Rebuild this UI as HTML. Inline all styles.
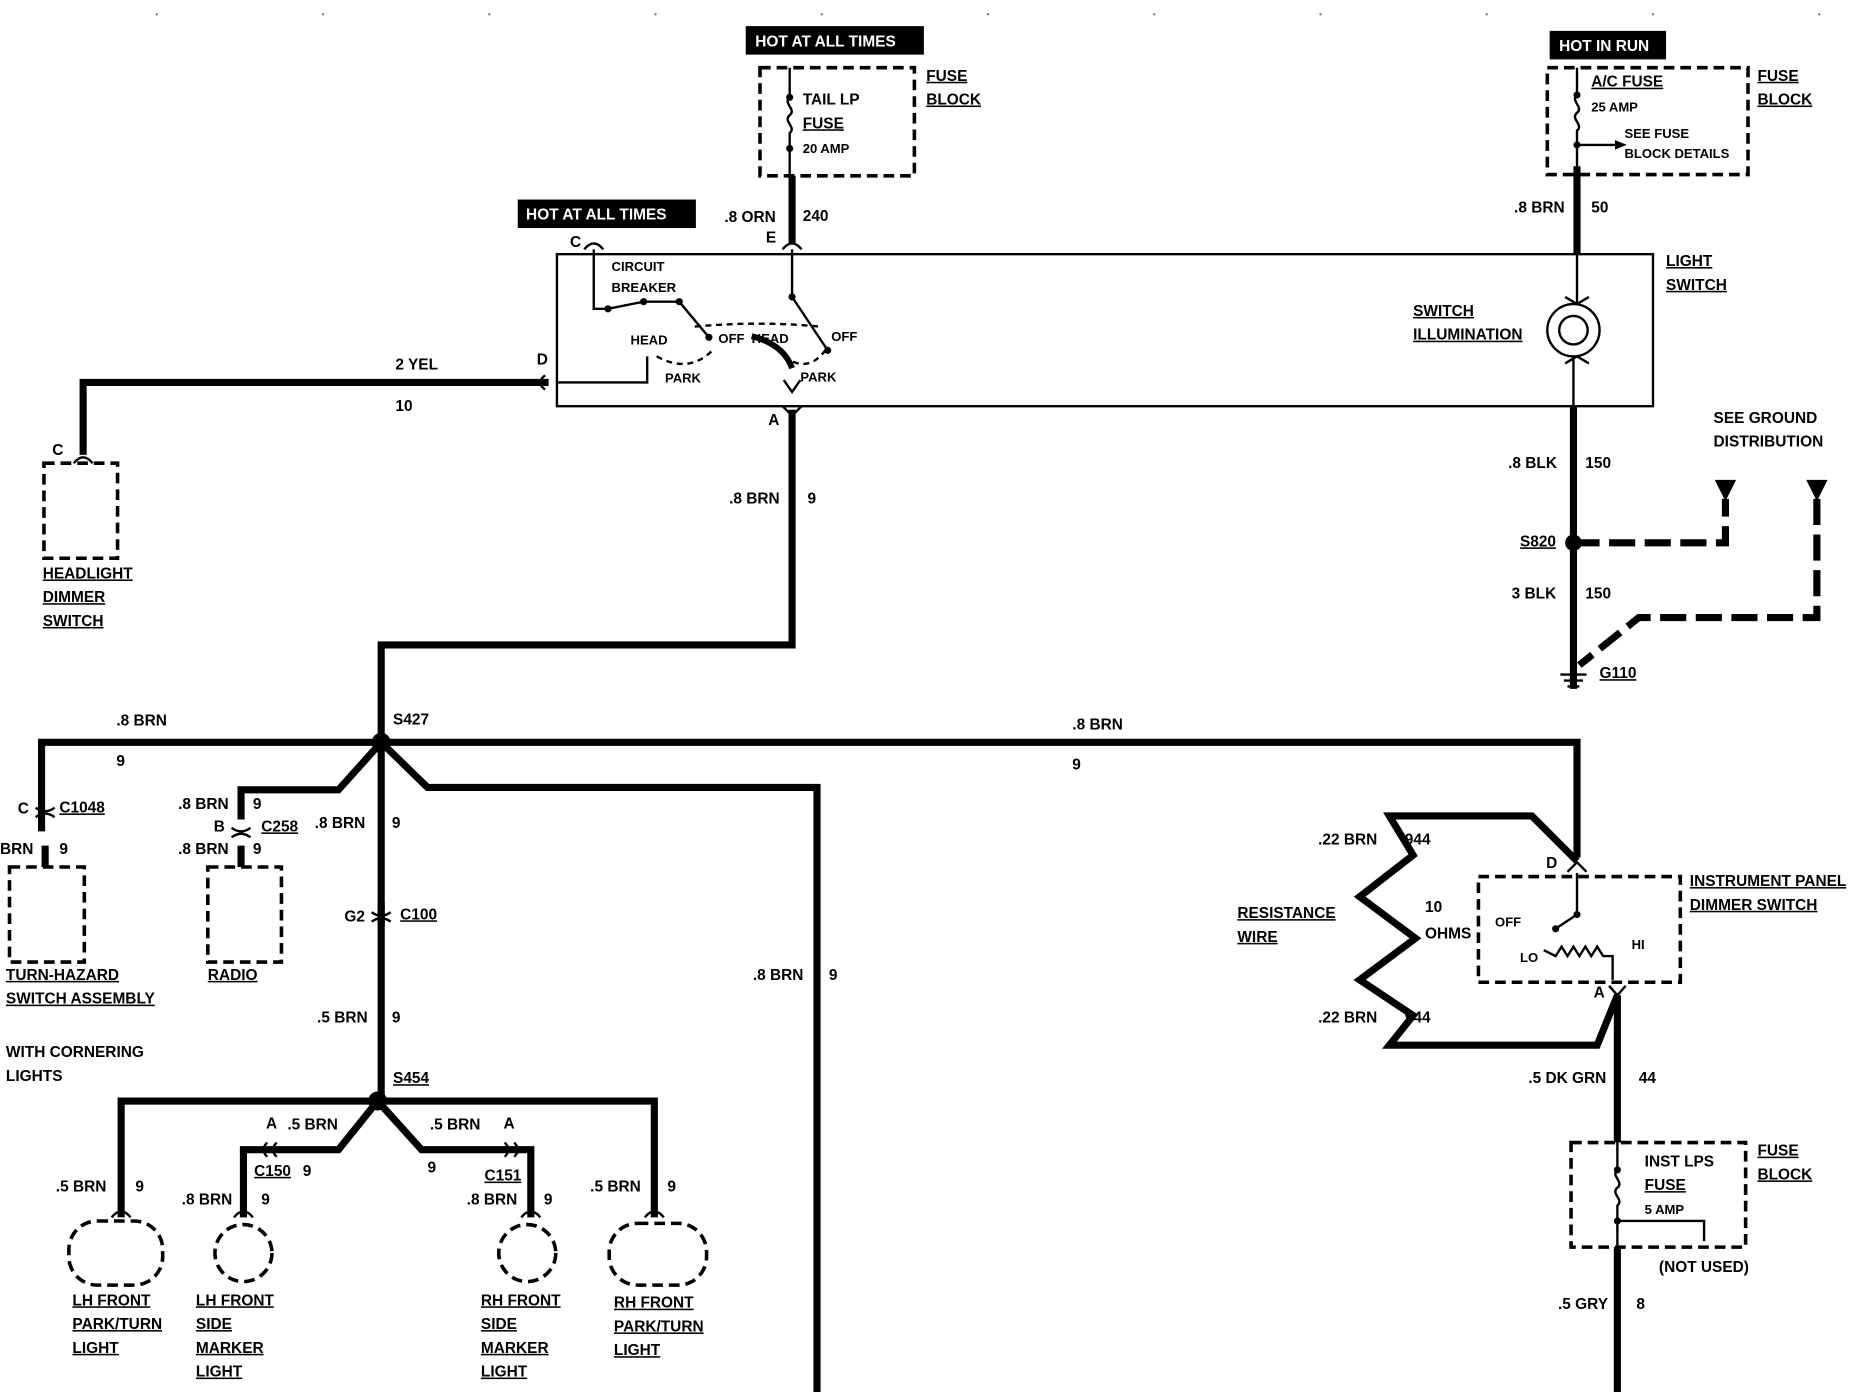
<!DOCTYPE html>
<html><head><meta charset="utf-8"><style>
html,body{margin:0;padding:0;background:#fff;}
svg{display:block;}
text{font-family:"Liberation Sans",sans-serif;font-weight:bold;font-size:13px;fill:#000;}
.s{font-size:11px;}
.w{fill:#fff;}
.u{text-decoration:underline;}
</style></head><body>
<svg width="1862" height="1392" viewBox="0 0 1568 1172" preserveAspectRatio="none" xmlns="http://www.w3.org/2000/svg">
<g fill="#777"><circle cx="132" cy="12" r="1"/><circle cx="272" cy="12" r="1"/><circle cx="412" cy="12" r="1"/><circle cx="552" cy="12" r="1"/><circle cx="692" cy="12" r="1"/><circle cx="832" cy="12" r="1"/><circle cx="972" cy="12" r="1"/><circle cx="1112" cy="12" r="1"/><circle cx="1252" cy="12" r="1"/><circle cx="1392" cy="12" r="1"/><circle cx="1532" cy="12" r="1"/></g>
<g fill="none" stroke="#000" stroke-linejoin="miter">
<g stroke-width="6">
<path d="M667 148V205"/>
<path d="M462 322H70V383"/>
<path d="M667 345V543H321V927"/>
<path d="M321 625H35V700"/>
<path d="M321 625H1328V722"/>
<path d="M321 625L285 665H203V690"/>
<path d="M321 625L360 663H688V1172"/>
<path d="M38 712V730M203 712V730M321 760V780"/>
<path d="M318 927H102V1025"/>
<path d="M318 927L285 968H205V1025"/>
<path d="M318 927L355 968H447V1025"/>
<path d="M318 927H551V1025"/>
<path d="M1328 140V214"/>
<path d="M1325 342V580"/>
<path d="M1328 725L1290 687H1170L1190 720L1145 755L1192 790L1145 825L1190 855L1170 880H1345L1362 838"/>
<path d="M1362 838V962M1362 1050V1172"/>
</g>
<g stroke-width="6" stroke-dasharray="22,8">
<path d="M1325 457H1453V420"/>
<path d="M1530 420V520H1380L1330 560"/>
</g>
<rect x="469" y="214" width="923" height="128" stroke-width="2"/>
<g stroke-width="3" stroke-dasharray="9,5">
<rect x="640" y="57" width="130" height="91"/>
<rect x="1303" y="57" width="169" height="90"/>
<rect x="37" y="390" width="62" height="80"/>
<rect x="8" y="730" width="63" height="80"/>
<rect x="175" y="730" width="62" height="80"/>
<rect x="1245" y="738" width="170" height="89"/>
<rect x="1323" y="962" width="147" height="88"/>
<rect x="58" y="1028" width="79" height="54" rx="24"/>
<circle cx="205" cy="1055" r="24"/>
<circle cx="444" cy="1055" r="24"/>
<rect x="513" y="1030" width="82" height="52" rx="24"/>
</g>
<g stroke-width="2">
<path d="M665 57V82M665 82c-6 5 6 10 0 15s6 10 0 15v13M665 125V148"/>
<path d="M1328 57V80c-6 5 6 10 0 15s6 10 0 15v30"/>
<path d="M1328 122H1360"/>
<path d="M1362 962V985c-6 5 6 10 0 15s6 10 0 15v35"/>
<path d="M1362 1028H1435V1045"/>
<path d="M659 210q8-10 16 0M659 342l8 8 8-8M459 316q-8 6 0 12M492 210q8-10 16 0M62 390q8-10 16 0"/>
<path d="M30 680q8 6 16 0M30 688q8-6 16 0M195 697q8 6 16 0M195 705q8-6 16 0M313 768q8 6 16 0M313 776q8-6 16 0"/>
<path d="M225 962q-6 6 0 12M233 962q-6 6 0 12M425 962q6 6 0 12M433 962q6 6 0 12"/>
<path d="M94 1025q8-10 16 0M197 1025q8-10 16 0M439 1025q8-10 16 0M543 1025q8-10 16 0"/>
<path d="M1320 734l8-8 8 8M1355 830l7 8 7-8"/>
<path d="M500 210V260l12 0 30-6 30 0 25 30M667 210V250l30 45"/>
<path d="M470 322H545V300M1328 214V256M1325 300V342"/>
<path d="M1318 250l10 6 10-6M1318 306l10-6 10 6"/>
<path d="M585 275Q640 270 690 275" stroke-dasharray="5,4"/>
<path d="M553 300Q580 315 600 295M660 300Q680 315 695 295" stroke-dasharray="5,4"/>
<circle cx="1325" cy="278" r="22"/>
<circle cx="1325" cy="278" r="12"/>
<path d="M1328 735V770l-18 12M1300 800l10 5 5-8 5 8 5-8 5 8 5-8 5 8 5-8 5 8h8V825"/>
</g>
<path d="M633 283Q660 290 667 310" stroke="#000" stroke-width="5" fill="none"/>
<path d="M660 320l7 10 7-10" stroke="#000" stroke-width="2" fill="none"/>
<path d="M1360 118l10 4-10 4z" fill="#000" stroke="none"/>
<path d="M1444 404h18l-9 18z M1521 404h18l-9 18z" fill="#000" stroke="none"/>
<g stroke-width="2"><path d="M1314 568h22M1317 573h16M1320 578h10"/></g>
</g>
<g fill="#000">
<circle cx="321" cy="625" r="8"/><circle cx="318" cy="927" r="8"/><circle cx="1325" cy="457" r="7"/>
<circle cx="665" cy="82" r="3"/><circle cx="665" cy="125" r="3"/><circle cx="1328" cy="80" r="3"/><circle cx="1328" cy="122" r="3"/>
<circle cx="512" cy="260" r="3"/><circle cx="542" cy="254" r="3"/><circle cx="572" cy="254" r="3"/><circle cx="597" cy="284" r="3"/>
<circle cx="667" cy="250" r="3"/><circle cx="697" cy="295" r="3"/><circle cx="1328" cy="770" r="3"/><circle cx="1310" cy="782" r="3"/>
<circle cx="1362" cy="985" r="3"/><circle cx="1362" cy="1028" r="3"/>
<rect x="628" y="22" width="150" height="24"/><rect x="436" y="168" width="150" height="24"/><rect x="1305" y="26" width="98" height="24"/>
</g>
<text class="w" x="636" y="39">HOT AT ALL TIMES</text>
<text class="w" x="443" y="185">HOT AT ALL TIMES</text>
<text class="w" x="1313" y="43">HOT IN RUN</text>
<text x="676" y="88">TAIL LP</text><text class="u" x="676" y="108">FUSE</text><text class="s" x="676" y="129">20 AMP</text>
<text class="u" x="780" y="68">FUSE</text><text class="u" x="780" y="88">BLOCK</text>
<text x="610" y="187">.8 ORN</text><text x="676" y="186">240</text><text x="645" y="204">E</text>
<text x="480" y="208">C</text><text class="s" x="515" y="228">CIRCUIT</text><text class="s" x="515" y="246">BREAKER</text>
<text class="s" x="531" y="290">HEAD</text><text class="s" x="560" y="322">PARK</text><text class="s" x="605" y="289">OFF</text>
<text class="s" x="633" y="289">HEAD</text><text class="s" x="700" y="287">OFF</text><text class="s" x="674" y="321">PARK</text>
<text x="452" y="307">D</text><text x="333" y="311">2 YEL</text><text x="333" y="346">10</text>
<text x="44" y="383">C</text>
<text class="u" x="36" y="487">HEADLIGHT</text><text class="u" x="36" y="507">DIMMER</text><text class="u" x="36" y="527">SWITCH</text>
<text x="647" y="358">A</text><text x="614" y="424">.8 BRN</text><text x="680" y="424">9</text>
<text x="98" y="611">.8 BRN</text><text x="98" y="645">9</text><text x="331" y="610">S427</text>
<text x="903" y="614">.8 BRN</text><text x="903" y="648">9</text>
<text x="15" y="685">C</text><text class="u" x="50" y="684">C1048</text><text x="0" y="719">BRN</text><text x="50" y="719">9</text>
<text class="u" x="5" y="825">TURN-HAZARD</text><text class="u" x="5" y="845">SWITCH ASSEMBLY</text>
<text x="150" y="681">.8 BRN</text><text x="213" y="681">9</text><text x="180" y="700">B</text><text class="u" x="220" y="700">C258</text>
<text x="150" y="719">.8 BRN</text><text x="213" y="719">9</text><text class="u" x="175" y="825">RADIO</text>
<text x="265" y="697">.8 BRN</text><text x="330" y="697">9</text><text x="290" y="776">G2</text><text class="u" x="337" y="774">C100</text>
<text x="267" y="861">.5 BRN</text><text x="330" y="861">9</text><text x="634" y="825">.8 BRN</text><text x="698" y="825">9</text>
<text x="5" y="890">WITH CORNERING</text><text x="5" y="910">LIGHTS</text>
<text class="u" x="331" y="912">S454</text>
<text x="224" y="950">A</text><text x="242" y="951">.5 BRN</text><text class="u" x="214" y="990">C150</text><text x="255" y="990">9</text>
<text x="153" y="1014">.8 BRN</text><text x="220" y="1014">9</text><text x="47" y="1003">.5 BRN</text><text x="114" y="1003">9</text>
<text x="362" y="951">.5 BRN</text><text x="424" y="950">A</text><text class="u" x="408" y="994">C151</text><text x="360" y="987">9</text>
<text x="393" y="1014">.8 BRN</text><text x="458" y="1014">9</text><text x="497" y="1003">.5 BRN</text><text x="562" y="1003">9</text>
<text class="u" x="61" y="1099">LH FRONT</text><text class="u" x="61" y="1119">PARK/TURN</text><text class="u" x="61" y="1139">LIGHT</text>
<text class="u" x="165" y="1099">LH FRONT</text><text class="u" x="165" y="1119">SIDE</text><text class="u" x="165" y="1139">MARKER</text><text class="u" x="165" y="1159">LIGHT</text>
<text class="u" x="405" y="1099">RH FRONT</text><text class="u" x="405" y="1119">SIDE</text><text class="u" x="405" y="1139">MARKER</text><text class="u" x="405" y="1159">LIGHT</text>
<text class="u" x="517" y="1101">RH FRONT</text><text class="u" x="517" y="1121">PARK/TURN</text><text class="u" x="517" y="1141">LIGHT</text>
<text class="u" x="1340" y="73">A/C FUSE</text><text class="s" x="1340" y="94">25 AMP</text><text class="s" x="1368" y="116">SEE FUSE</text><text class="s" x="1368" y="133">BLOCK DETAILS</text>
<text class="u" x="1480" y="68">FUSE</text><text class="u" x="1480" y="88">BLOCK</text>
<text x="1275" y="179">.8 BRN</text><text x="1340" y="179">50</text>
<text class="u" x="1403" y="224">LIGHT</text><text class="u" x="1403" y="244">SWITCH</text>
<text class="u" x="1190" y="266">SWITCH</text><text class="u" x="1190" y="286">ILLUMINATION</text>
<text x="1270" y="394">.8 BLK</text><text x="1335" y="394">150</text>
<text x="1443" y="356">SEE GROUND</text><text x="1443" y="376">DISTRIBUTION</text>
<text class="u" x="1280" y="460">S820</text><text x="1273" y="504">3 BLK</text><text x="1335" y="504">150</text><text class="u" x="1347" y="571">G110</text>
<text x="1110" y="711">.22 BRN</text><text x="1183" y="711">944</text><text x="1110" y="861">.22 BRN</text><text x="1183" y="861">944</text>
<text x="1200" y="768">10</text><text x="1200" y="790">OHMS</text>
<text class="u" x="1042" y="773">RESISTANCE</text><text class="u" x="1042" y="793">WIRE</text>
<text x="1302" y="731">D</text><text class="u" x="1423" y="746">INSTRUMENT PANEL</text><text class="u" x="1423" y="766">DIMMER SWITCH</text>
<text class="s" x="1259" y="780">OFF</text><text class="s" x="1280" y="810">LO</text><text class="s" x="1374" y="799">HI</text>
<text x="1342" y="840">A</text><text x="1287" y="912">.5 DK GRN</text><text x="1380" y="912">44</text>
<text x="1385" y="982">INST LPS</text><text class="u" x="1385" y="1002">FUSE</text><text class="s" x="1385" y="1022">5 AMP</text>
<text class="u" x="1480" y="973">FUSE</text><text class="u" x="1480" y="993">BLOCK</text><text x="1397" y="1071">(NOT USED)</text>
<text x="1312" y="1102">.5 GRY</text><text x="1378" y="1102">8</text>
</svg>
</body></html>
